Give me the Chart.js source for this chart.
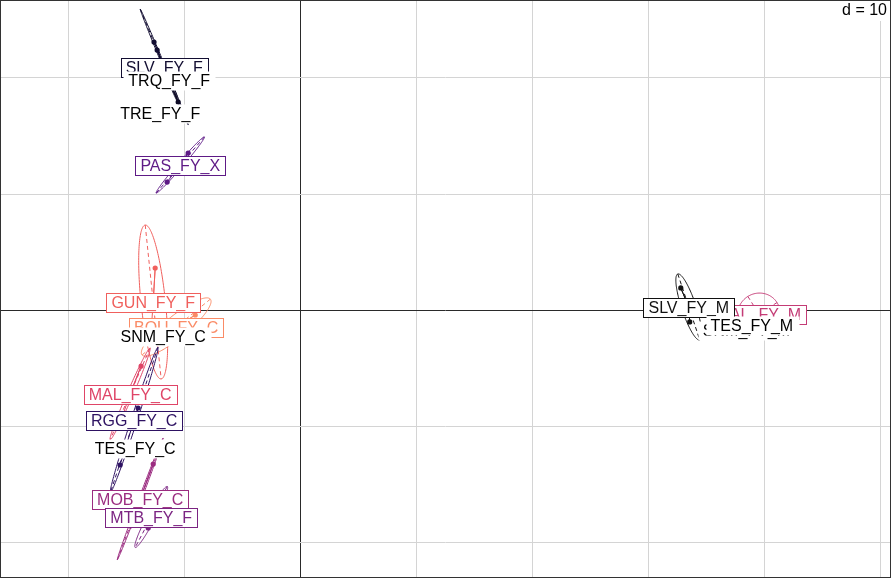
<!DOCTYPE html>
<html><head><meta charset="utf-8">
<script src="https://cdn.jsdelivr.net/npm/chart.js@4.4.1/dist/chart.umd.min.js"></script>
<style>html,body{margin:0;padding:0;background:#fff;}canvas{display:block;}</style>
</head><body>
<canvas id="c" width="892" height="578"></canvas>
<script>
// ---------- data (factorial map coordinates) ----------
const groupNames = ['BOU_FY_C','GUN_FY_F','MAL_FY_C','MAL_FY_M','MOB_FY_C','MTB_FY_F','PAS_FY_X','RGG_FY_C',
                    'SLV_FY_F','SLV_FY_M','SNM_FY_C','SNM_FY_M','TES_FY_C','TES_FY_M','TRE_FY_F','TRQ_FY_F'];
const centerX = [-10.69,-12.67,-14.66,39.48,-13.79,-12.84,-10.34,-14.31,-11.72,33.45,-11.81,38.41,-14.22,38.88,-12.07,-11.29];
const centerY = [-1.47,0.69,-7.24,-0.34,-16.29,-17.84,12.50,-9.48,20.95,0.26,-2.24,-1.72,-11.90,-1.29,16.98,19.83];
const groupPoints = [
  [[-9.05,-0.43],[-12.07,-2.59]],
  [[-12.50,3.62],[-12.84,-1.72]],
  [[-13.71,-4.83],[-15.52,-9.74]],
  [[38.97,-0.69],[39.99,0.00]],
  [[-12.67,-13.28],[-14.66,-18.62]],
  [[-13.10,-18.79],[-12.24,-16.64]],
  [[-9.66,13.53],[-11.47,11.03]],
  [[-13.97,-8.45],[-15.52,-13.36]],
  [[-12.33,22.41],[-12.60,23.10],[-11.21,19.83]],
  [[32.76,1.90],[33.53,-1.03]],
  [[-12.24,-1.90],[-11.38,-2.59]],
  [[37.93,-1.55],[38.79,-1.90]],
  [[-14.66,-11.64],[-13.79,-12.16]],
  [[38.36,-1.12],[39.40,-1.47]],
  [[-12.76,17.07],[-11.38,16.90]],
  [[-10.52,17.93],[-11.81,21.12]]
];
const ellipseMajor = [3.8,6.67,4.3,1.85,5.6,2.97,3.19,6.6,5.4,3.0,0.8,0.8,0.9,0.9,0.8,2.2];
const ellipseMinor = [0.95,1.05,0.26,1.78,0.12,0.36,0.22,0.26,0.1,0.62,0.3,0.3,0.3,0.3,0.2,0.13];
const ellipseAngle = [39.3,95.9,66.5,32,69.4,62.3,49.4,71.9,112.5,108.4,30,20,30,20,10,112.2];
const gridTicksX = [-20,-10,0,10,20,30,40,50];
const gridTicksY = [-20,-10,0,10,20];
const scaleText = 'd = 10';

// ---------- styles ----------
const groupColors = ['#FA8B66','#F0605D','#DF4567','#C43C76','#9B2C80','#7B2482','#5E1A86','#2E1262',
                     '#120D31','#111111','#000000','#000000','#14102E','#000000','#0d0a26','#0d0a26'];
const boxedLabel = [true,true,true,true,true,true,true,true,true,true,false,false,false,false,false,false];
const FONT = '16px "Liberation Sans", Arial, sans-serif';

const datasets = [];
groupNames.forEach((g,i)=>{
  const star = [];
  groupPoints[i].forEach(p=>{ star.push({x:centerX[i],y:centerY[i]}); star.push({x:p[0],y:p[1]}); });
  datasets.push({type:'scatter', data:star, showLine:true, borderColor:groupColors[i], borderWidth:1,
                 pointRadius:0, order:2});
  datasets.push({type:'scatter', data:groupPoints[i].map(p=>({x:p[0],y:p[1]})), showLine:false,
                 pointRadius:2.6, pointBackgroundColor:groupColors[i], pointBorderWidth:0, order:1});
});

function ellPt(i,t,x,y){
  const th=ellipseAngle[i]*Math.PI/180, A=ellipseMajor[i], B=ellipseMinor[i];
  const dx=A*Math.cos(t), dy=B*Math.sin(t);
  return [x.getPixelForValue(centerX[i]+dx*Math.cos(th)-dy*Math.sin(th)),
          y.getPixelForValue(centerY[i]+dx*Math.sin(th)+dy*Math.cos(th))];
}

const classPlugin = {
  id:'sclass',
  beforeDatasetsDraw(chart){
    const {ctx, chartArea:a, scales:{x,y}} = chart;
    ctx.save();
    ctx.beginPath(); ctx.rect(a.left,a.top,a.width,a.height); ctx.clip();
    groupNames.forEach((g,i)=>{
      ctx.strokeStyle=groupColors[i]; ctx.lineWidth=1;
      ctx.beginPath();
      for(let k=0;k<=160;k++){
        const p=ellPt(i,k/160*2*Math.PI,x,y);
        k?ctx.lineTo(p[0],p[1]):ctx.moveTo(p[0],p[1]);
      }
      ctx.stroke();
      ctx.setLineDash([4,3]);
      ctx.beginPath();
      let p1=ellPt(i,0,x,y), p2=ellPt(i,Math.PI,x,y);
      ctx.moveTo(p1[0],p1[1]); ctx.lineTo(p2[0],p2[1]);
      p1=ellPt(i,Math.PI/2,x,y); p2=ellPt(i,3*Math.PI/2,x,y);
      ctx.moveTo(p1[0],p1[1]); ctx.lineTo(p2[0],p2[1]);
      ctx.stroke();
      ctx.setLineDash([]);
    });
    ctx.restore();
  },
  afterDatasetsDraw(chart){
    const {ctx, chartArea:a, scales:{x,y}} = chart;
    ctx.save();
    ctx.font=FONT; ctx.textAlign='center'; ctx.textBaseline='middle';
    groupNames.forEach((g,i)=>{
      const px=x.getPixelForValue(centerX[i]), py=y.getPixelForValue(centerY[i]);
      const w=ctx.measureText(g).width;
      const bx=Math.round(px-w/2-5)+0.5, by=Math.round(py-9)+0.5, bw=Math.round(w+10), bh=19;
      ctx.fillStyle='#ffffff'; ctx.fillRect(bx,by,bw,bh);
      if(boxedLabel[i]){ ctx.strokeStyle=groupColors[i]; ctx.lineWidth=1; ctx.strokeRect(bx,by,bw,bh); }
      ctx.fillStyle=boxedLabel[i]?groupColors[i]:'#000000';
      ctx.fillText(g,px,py+1.5);
    });
    ctx.textAlign='right';
    const tw=ctx.measureText(scaleText).width;
    ctx.fillStyle='#ffffff'; ctx.fillRect(a.right-tw-8,a.top,tw+8,21);
    ctx.fillStyle='#000000'; ctx.fillText(scaleText,a.right-4,a.top+11);
    ctx.strokeStyle='#333333'; ctx.lineWidth=1;
    ctx.strokeRect(a.left+0.5,a.top+0.5,a.width-1,a.height-1);
    ctx.restore();
  }
};

const gridColor = c => (c.tick && c.tick.value===0) ? '#2a2a2a' : '#d4d4d4';
new Chart(document.getElementById('c'),{
  type:'scatter',
  data:{datasets},
  options:{
    responsive:false, animation:false, devicePixelRatio:1,
    layout:{autoPadding:false, padding:{left:0,top:0,right:1,bottom:0}},
    plugins:{legend:{display:false}, tooltip:{enabled:false}},
    scales:{
      x:{type:'linear', min:-25.862, max:50.862,
         afterBuildTicks:s=>{s.ticks=gridTicksX.map(v=>({value:v}));},
         ticks:{display:false}, border:{display:false},
         grid:{color:gridColor, lineWidth:1, drawTicks:false}},
      y:{type:'linear', min:-23.103, max:26.724,
         afterBuildTicks:s=>{s.ticks=gridTicksY.map(v=>({value:v}));},
         ticks:{display:false}, border:{display:false},
         grid:{color:gridColor, lineWidth:1, drawTicks:false}}
    }
  },
  plugins:[classPlugin]
});
</script>
</body></html>
